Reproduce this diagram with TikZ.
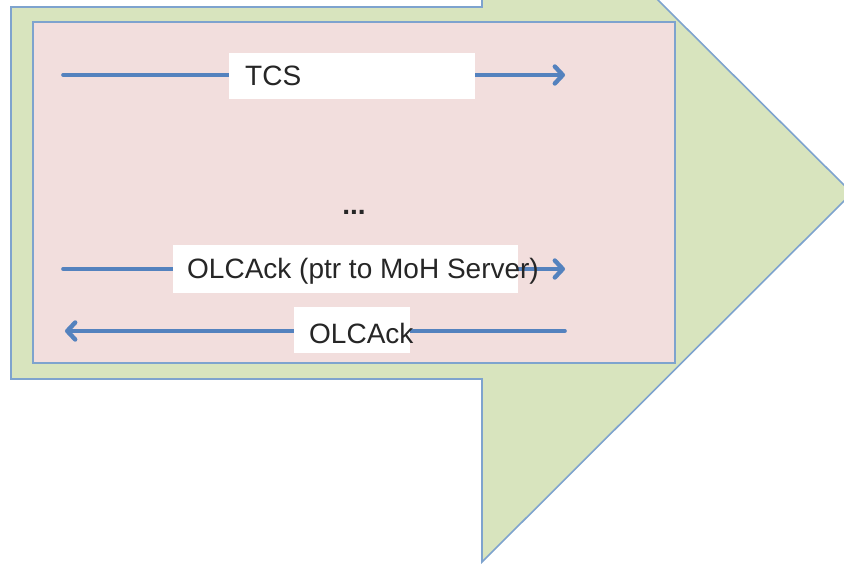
\documentclass[tikz,border=0pt]{standalone}
\usepackage{fontspec}
\setmainfont{Liberation Sans}
\usetikzlibrary{arrows.meta}

\definecolor{bodygreen}{RGB}{216,228,190}
\definecolor{boxpink}{RGB}{242,222,221}
\definecolor{edgeblue}{RGB}{126,163,206}
\definecolor{msgblue}{RGB}{84,130,190}

\tikzset{
  shell/.style={fill=bodygreen, draw=edgeblue, line width=1.6bp, line join=miter},
  panel/.style={fill=boxpink, draw=edgeblue, line width=1.6bp},
  msg/.style={draw=msgblue, line width=3.6bp, line cap=round,
    -{Straight Barb[length=8bp, width=17bp, line width=4.4bp, round]}},
  tag/.style={fill=white, draw=none, inner sep=0pt, anchor=north west},
  msgtext/.style={anchor=base west, inner sep=0pt, text=black!85,
    font=\fontsize{28bp}{33bp}\selectfont},
}

\begin{document}
\begin{tikzpicture}[x=1bp, y=-1bp]
  \useasboundingbox (0,0) rectangle (844,564);

  % arrow-shaped outer block
  \begin{scope}
    \clip (0,0) rectangle (844,564);
    \draw[shell] (11,7) -- (482,7) -- (482,-175) -- (852,193)
      -- (482,562) -- (482,379) -- (11,379) -- cycle;
  \end{scope}

  % inner message panel
  \draw[panel] (33,22) rectangle (675,363);

  % message end points
  \coordinate (tcsL) at (63,75);
  \coordinate (tcsR) at (565,75);
  \coordinate (ptrL) at (63,269);
  \coordinate (ptrR) at (565,269);
  \coordinate (ackR) at (565,331);
  \coordinate (ackL) at (65,331);

  % messages
  \draw[msg] (tcsL) -- (tcsR);
  \draw[msg] (ptrL) -- (ptrR);
  \draw[msg] (ackR) -- (ackL);

  % label boxes
  \node[tag, minimum width=246bp, minimum height=46bp] (tcsbox) at (229,53) {};
  \node[tag, minimum width=345bp, minimum height=48bp] (ptrbox) at (173,245) {};
  \node[tag, minimum width=116bp, minimum height=46bp] (ackbox) at (294,307) {};

  % labels
  \node[msgtext] (tcs) at (245,86) {TCS};
  \node[msgtext] (ptr) at (187,278) {OLCAck (ptr to MoH Server)};
  \node[msgtext] (ack) at (309,343) {OLCAck};
  \node[msgtext, anchor=base, font=\fontsize{28bp}{33bp}\selectfont\bfseries] (dots) at (354,215) {...};
\end{tikzpicture}
\end{document}
